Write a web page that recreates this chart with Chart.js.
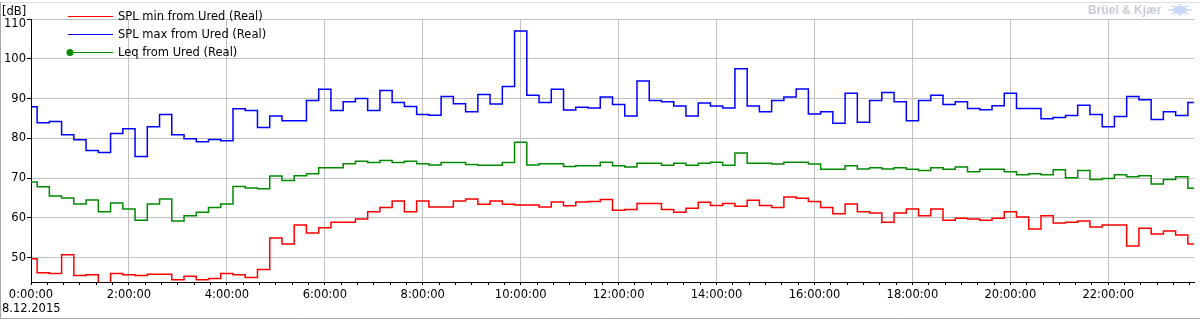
<!DOCTYPE html>
<html><head><meta charset="utf-8">
<script src="https://cdn.jsdelivr.net/npm/chart.js@4.4.1/dist/chart.umd.min.js"></script>
<style>html,body{margin:0;padding:0;background:#fff;overflow:hidden}canvas{display:block}</style>
</head><body>
<canvas id="c" width="1200" height="320"></canvas>
<script>
// ---- data (15-minute intervals starting 0:00) ----
const seriesNames = ['SPL min from Ured (Real)', 'SPL max from Ured (Real)', 'Leq from Ured (Real)'];
const seriesColors = ['#ff0000', '#0000ff', '#008a00'];
const startHour = 0;
const intervalHours = 0.25;

const splMin = [49.7,46.2,46.0,50.7,45.5,45.7,43.0,46.0,45.7,45.5,45.8,45.8,44.4,45.3,44.4,44.7,
  46.0,45.7,45.0,47.0,54.9,53.4,58.2,56.2,57.5,58.9,58.9,59.7,61.5,62.6,64.2,61.5,
  64.2,62.7,62.7,64.2,64.7,63.4,64.2,63.4,63.2,63.2,62.7,64.0,63.0,64.0,64.1,64.6,
  61.9,62.1,63.6,63.6,62.1,61.4,62.4,63.9,63.1,63.6,62.9,64.4,63.1,62.6,65.2,64.9,
  64.1,62.6,61.0,63.5,61.5,61.2,58.9,61.2,62.2,60.5,62.2,59.4,59.9,59.7,59.4,59.9,
  61.5,60.2,57.2,60.5,58.7,58.9,59.2,57.7,58.2,58.2,52.9,57.4,55.9,56.7,55.7,53.4];

const splMax = [87.9,83.9,84.2,80.9,79.6,76.9,76.4,81.2,82.4,75.4,82.9,86.0,80.9,79.9,79.1,79.7,
  79.4,87.4,87.0,82.7,85.6,84.4,84.4,89.5,92.3,87.0,89.2,90.0,87.0,92.0,89.0,88.0,
  86.0,85.8,90.5,88.7,86.7,91.0,88.6,93.0,107.0,90.8,89.0,92.3,87.1,87.8,87.6,90.4,
  88.5,85.6,94.4,89.5,89.2,88.1,85.6,88.9,88.1,87.6,97.5,88.1,86.7,89.5,90.4,92.4,
  86.1,86.7,83.8,91.3,84.0,89.5,91.5,89.2,84.4,89.5,90.8,88.5,89.2,87.5,87.2,88.2,
  91.3,87.5,87.5,84.9,85.2,85.7,88.3,86.0,82.9,85.5,90.5,89.7,84.7,86.7,85.7,89.0];

const leq = [69.0,67.8,65.5,65.0,63.5,64.5,61.5,63.7,62.2,59.4,63.5,64.7,59.2,60.5,61.4,62.6,
  63.5,67.9,67.5,67.3,70.5,69.4,70.6,71.1,72.6,72.6,73.6,74.2,73.9,74.4,73.9,74.2,
  73.6,73.3,73.9,73.9,73.4,73.2,73.2,73.9,79.0,73.3,73.6,73.6,72.9,73.1,73.1,74.0,
  73.1,72.8,73.7,73.7,73.2,73.7,73.2,73.7,74.0,73.2,76.3,73.7,73.7,73.5,74.0,74.0,
  73.5,72.2,72.2,73.1,72.3,72.6,72.3,72.6,72.2,71.9,72.6,72.2,72.8,71.6,72.2,72.2,
  71.6,70.8,71.1,70.8,72.1,70.1,71.9,69.6,69.9,70.8,70.3,70.6,68.5,69.6,70.3,67.4];

const xTickLabels = ['0:00:00','2:00:00','4:00:00','6:00:00','8:00:00','10:00:00',
  '12:00:00','14:00:00','16:00:00','18:00:00','20:00:00','22:00:00'];
const yTickValues = [50, 60, 70, 80, 90, 100, 110];
const dateLabel = '8.12.2015';
const unitLabel = '[dB]';
const brandLabel = 'Br\u00fcel & Kj\u00e6r';

// ---- build ----
const hours = splMin.map((_, i) => startHour + i * intervalHours);
const toPts = arr => arr.map((v, i) => ({x: hours[i], y: v}));

const FONT = 'DejaVu Sans';
const GRID = '#c0c0c0';

const decor = {
  id: 'decor',
  beforeDraw(chart) {
    const c = chart.ctx;
    c.save();
    c.fillStyle = '#fff';
    c.fillRect(0, 0, chart.width, chart.height);
    c.restore();
  },
  afterDraw(chart) {
    const c = chart.ctx;
    const ys = chart.scales.y;
    c.save();
    // outer frame
    c.lineWidth = 1;
    c.strokeStyle = '#dcdcdc';
    c.beginPath(); c.moveTo(0, 2.5); c.lineTo(1200, 2.5); c.stroke();
    c.strokeStyle = '#a8a8a8';
    c.beginPath(); c.moveTo(0.5, 2); c.lineTo(0.5, 318.5); c.lineTo(1200, 318.5); c.stroke();

    c.fillStyle = '#000';
    c.font = '11.5px "' + FONT + '"';
    c.textBaseline = 'middle';
    // unit
    c.textAlign = 'left';
    c.fillText(unitLabel, 2, 12);
    // top tick label (shifted below the top gridline)
    c.textAlign = 'right';
    c.fillText(String(yTickValues[yTickValues.length - 1]), 26, ys.getPixelForValue(110) + 5);
    // date
    c.textAlign = 'left';
    c.fillText(dateLabel, 2, 309.5);

    // legend
    const ly = [16.5, 34.5, 52.5];
    seriesNames.forEach((name, i) => {
      c.strokeStyle = seriesColors[i];
      c.lineWidth = 1;
      c.beginPath(); c.moveTo(68, ly[i]); c.lineTo(113, ly[i]); c.stroke();
      if (i === 2) {
        c.fillStyle = seriesColors[i];
        c.beginPath(); c.arc(70, ly[i], 3.5, 0, Math.PI * 2); c.fill();
      }
      c.fillStyle = '#000';
      c.textAlign = 'left';
      c.fillText(name, 118, ly[i] + 1);
    });

    // brand
    c.fillStyle = '#c6ccd6';
    c.font = 'bold 12px "Liberation Sans"';
    c.textAlign = 'left';
    c.fillText(brandLabel, 1088, 11);
    c.strokeStyle = '#bcd0f2';
    c.fillStyle = '#c8d8f6';
    c.beginPath(); c.ellipse(1180, 10, 7, 4, 0, 0, Math.PI * 2); c.fill();
    c.lineWidth = 1.2;
    for (let a = 0; a < 8; a++) {
      const ang = a * Math.PI / 4;
      c.beginPath();
      c.moveTo(1180 + Math.cos(ang) * 6, 10 + Math.sin(ang) * 3.5);
      c.lineTo(1180 + Math.cos(ang) * 12, 10 + Math.sin(ang) * 6);
      c.stroke();
    }
    c.restore();
  }
};

const mk = (i, arr) => ({
  label: seriesNames[i],
  data: toPts(arr),
  borderColor: seriesColors[i],
  backgroundColor: seriesColors[i],
  borderWidth: 1.5,
  pointRadius: 0,
  stepped: 'middle',
  fill: false,
  clip: 0
});

new Chart(document.getElementById('c'), {
  type: 'line',
  data: { datasets: [mk(0, splMin), mk(1, splMax), mk(2, leq)] },
  options: {
    responsive: false,
    devicePixelRatio: 1,
    animation: false,
    events: [],
    layout: { padding: { top: 19, left: 0, right: 6, bottom: 0 } },
    plugins: { legend: { display: false }, tooltip: { enabled: false } },
    scales: {
      x: {
        type: 'linear',
        min: hours[0],
        max: hours[hours.length - 1],
        afterFit(s) { s.height = 38; },
        afterBuildTicks(s) {
          const t = [];
          for (let k = 0; k * 20 / 60 <= s.max + 1e-9; k++) t.push({ value: k / 3 });
          s.ticks = t;
        },
        border: { color: '#000', width: 1 },
        grid: {
          color: ctx => (ctx.index % 6 === 0 ? GRID : 'rgba(0,0,0,0)'),
          tickColor: '#000',
          tickLength: 3,
          lineWidth: 1
        },
        ticks: {
          autoSkip: false,
          maxRotation: 0,
          padding: 3,
          color: '#000',
          font: { family: FONT, size: 11.5 },
          callback: (v, idx) => (idx % 6 === 0 ? xTickLabels[idx / 6] : '')
        }
      },
      y: {
        min: 43.85,
        max: 110,
        afterFit(s) { s.width = 31; },
        afterBuildTicks(s) { s.ticks = yTickValues.map(v => ({ value: v })); },
        border: { color: '#000', width: 1 },
        grid: { color: GRID, tickColor: '#000', tickLength: 4, lineWidth: 1 },
        ticks: {
          padding: 1,
          color: ctx => (ctx.tick && ctx.tick.value === 110 ? 'rgba(0,0,0,0)' : '#000'),
          font: { family: FONT, size: 11.5 },
          callback: v => String(v)
        }
      }
    }
  },
  plugins: [decor]
});
</script>
</body></html>
